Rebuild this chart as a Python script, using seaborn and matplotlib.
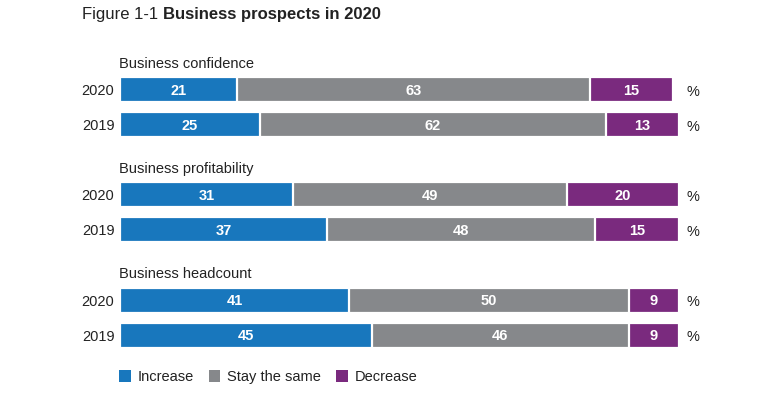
import matplotlib
matplotlib.use("Agg")
import matplotlib.pyplot as plt
from matplotlib.patches import Patch
import seaborn as sns
import pandas as pd
import numpy as np

# ---- data ----
groups = ["Business confidence", "Business profitability", "Business headcount"]
years = ["2020", "2019"]
categories = ["Increase", "Stay the same", "Decrease"]
increase = [21, 25, 31, 37, 41, 45]
stay_same = [63, 62, 49, 48, 50, 46]
decrease = [15, 13, 20, 15, 9, 9]
colors = ["#1877bd", "#86888b", "#7a2a7e"]

sns.set_theme(style="white")
plt.rcParams["font.family"] = ["Liberation Sans", "DejaVu Sans"]

# row positions: each group takes 3 slots (label, 2020, 2019)
positions = []
row_years = []
for gi in range(len(groups)):
    for yi, yr in enumerate(years):
        positions.append(gi * 3 + 1 + yi)
        row_years.append(yr)

series = [increase, stay_same, decrease]
rows = []
for i, pos in enumerate(positions):
    cum = 0
    for c, s in zip(categories, series):
        rows.append(dict(pos=pos, cat=c, value=s[i], left=cum, cum=cum + s[i]))
        cum += s[i]
df = pd.DataFrame(rows)

fig = plt.figure(figsize=(7.7, 3.99), dpi=100)
ax = fig.add_axes([120 / 770, 0.0719, 559 / 770, 0.7918])

for c, col in reversed(list(zip(categories, colors))):
    sub = df[df["cat"] == c]
    sns.barplot(data=sub, x="cum", y="pos", orient="h", native_scale=True,
                color=col, width=0.71, edgecolor="white", linewidth=1.6,
                errorbar=None, saturation=1, ax=ax)

# value labels
for _, r in df.iterrows():
    ax.text(r["left"] + r["value"] / 2, r["pos"] + 0.03, f"{r['value']}", ha="center",
            va="center", color="white", fontsize=10.5, fontweight="bold")

# percent signs
for pos in positions:
    ax.text(101.3, pos + 0.06, "%", ha="left", va="center", fontsize=10.5,
            color="#222222", clip_on=False)

# group labels
for gi, g in enumerate(groups):
    ax.text(-0.2, gi * 3 + 0.27, g, ha="left", va="center", fontsize=10.5,
            color="#222222")

ax.set_xlim(0, 100)
ax.set_ylim(9, 0)
ax.set_yticks(positions)
ax.set_yticklabels(row_years, fontsize=10.5, color="#222222")
ax.tick_params(axis="y", length=0, pad=4)
ax.set_xticks([])
ax.set_xlabel("")
ax.set_ylabel("")
for s in ax.spines.values():
    s.set_visible(False)

# title: regular + bold part
fig.canvas.draw()
renderer = fig.canvas.get_renderer()
t1 = fig.text(82 / 770, 1 - 14 / 399, "Figure 1-1 ", ha="left", va="center",
              fontsize=12, color="#222222")
bb = t1.get_window_extent(renderer=renderer)
fig.text(bb.x1 / fig.bbox.width, 1 - 14 / 399, "Business prospects in 2020",
         ha="left", va="center", fontsize=12, fontweight="bold", color="#222222")

# legend
handles = [Patch(facecolor=col, edgecolor="none", label=c) for c, col in zip(categories, colors)]
fig.legend(handles=handles, loc="center left", bbox_to_anchor=(119 / 770, 22 / 399),
           ncol=3, frameon=False, fontsize=10.5, handlelength=0.8, handleheight=0.8,
           handletextpad=0.45, columnspacing=1.05, borderaxespad=0, borderpad=0,
           labelcolor="#222222")

fig.savefig("out.png", dpi=100)
